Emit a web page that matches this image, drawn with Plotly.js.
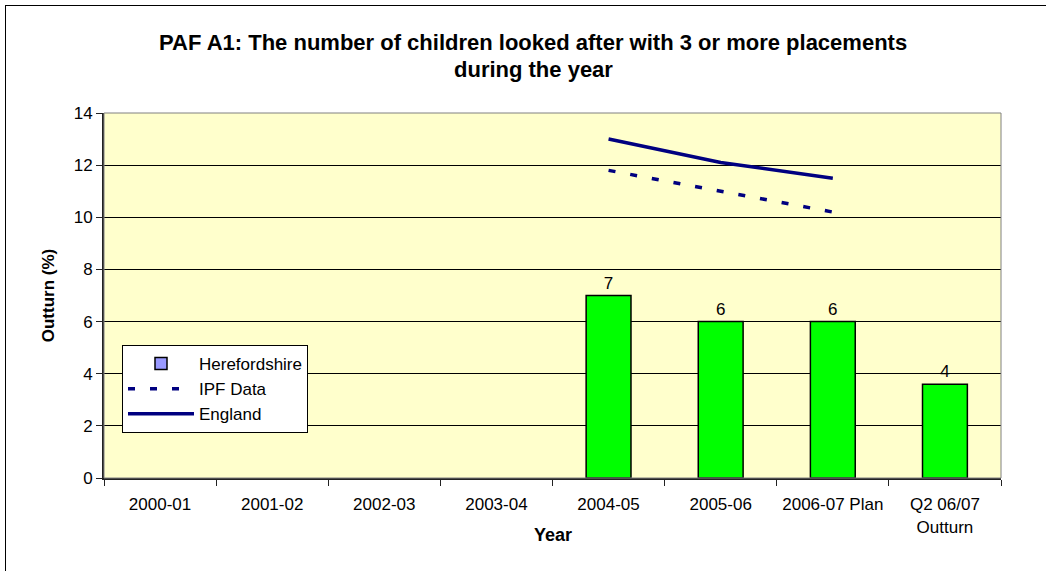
<!DOCTYPE html>
<html>
<head>
<meta charset="utf-8">
<script src="https://cdn.plot.ly/plotly-3.0.1.min.js"></script>
<style>
  html, body { margin: 0; padding: 0; background: #ffffff; }
  #chart { position: absolute; left: 0; top: 0; width: 1046px; height: 571px; }
  #frame { position: absolute; left: 5px; top: 5px; width: 1100px; height: 700px;
           border-left: 1px solid #000; border-top: 1px solid #000; pointer-events: none; }
</style>
</head>
<body>
<div id="chart"></div>
<div id="frame"></div>
<script>
// Reporting years along the x axis
const years = ['2000-01', '2001-02', '2002-03', '2003-04', '2004-05', '2005-06',
               '2006-07 Plan', 'Q2 06/07<br>Outturn'];

// Percentage of looked-after children with 3+ placements
const herefordshire = [null, null, null, null, 7, 6, 6, 3.6];
const ipfData       = [null, null, null, null, 11.8, 11.0, 10.2, null];
const england       = [null, null, null, null, 13.0, 12.1, 11.5, null];

// Series colour, with the reported points highlighted in green
const herefordshireColors = ['#9999FF', '#9999FF', '#9999FF', '#9999FF',
                             '#00FF00', '#00FF00', '#00FF00', '#00FF00'];

const titleLines = ['PAF A1: The number of children looked after with 3 or more placements',
                    'during the year'];
const xTitle = 'Year';
const yTitle = 'Outturn (%)';
const yTicks = [0, 2, 4, 6, 8, 10, 12, 14];

const FONT = 'Liberation Sans, Arial, sans-serif';
const navy = '#000080';

const traces = [
  {
    type: 'bar',
    name: 'Herefordshire',
    x: years,
    y: herefordshire,
    marker: { color: herefordshireColors, line: { color: '#000000', width: 1.5 } },
    texttemplate: '%{y:.0f}',
    textposition: 'outside',
    textfont: { family: FONT, size: 17, color: '#000000' },
    cliponaxis: false,
    hoverinfo: 'x+y'
  },
  {
    type: 'scatter',
    mode: 'lines',
    name: 'IPF Data',
    x: years,
    y: ipfData,
    line: { color: navy, width: 3.5, dash: '7px,15px' }
  },
  {
    type: 'scatter',
    mode: 'lines',
    name: 'England',
    x: years,
    y: england,
    line: { color: navy, width: 3.5 }
  }
];

const plotL = 104, plotR = 1001, plotT = 113, plotB = 478;
const W = 1046, H = 571;
const px = v => (v - plotL) / (plotR - plotL);
const py = v => (plotB - v) / (plotB - plotT);

const layout = {
  width: W,
  height: H,
  margin: { l: plotL, r: W - plotR, t: plotT, b: H - plotB, pad: 0 },
  paper_bgcolor: 'rgba(0,0,0,0)',
  plot_bgcolor: '#FFFFCC',
  font: { family: FONT, size: 17, color: '#000000' },
  showlegend: true,
  barmode: 'group',
  bargap: 0.6,
  xaxis: {
    type: 'category',
    categoryorder: 'array',
    categoryarray: years,
    range: [-0.5, years.length - 0.5],
    showgrid: false,
    showline: true,
    linecolor: '#222222',
    linewidth: 2,
    ticks: 'outside',
    tickson: 'boundaries',
    ticklen: 6,
    tickcolor: '#222222',
    ticklabelstandoff: 10,
    tickfont: { family: FONT, size: 17, color: '#000000' },
    fixedrange: true
  },
  yaxis: {
    range: [0, 14],
    tickvals: yTicks,
    ticktext: yTicks.map(String),
    showgrid: true,
    gridcolor: '#000000',
    gridwidth: 1,
    zeroline: false,
    showline: true,
    linecolor: '#222222',
    linewidth: 2,
    ticks: 'outside',
    ticklen: 6,
    tickcolor: '#222222',
    tickfont: { family: FONT, size: 17, color: '#000000' },
    title: { text: yTitle, font: { family: FONT, size: 17, weight: 'bold', color: '#000000' }, standoff: 15 },
    fixedrange: true
  },
  legend: {
    x: px(122),
    y: py(345),
    xanchor: 'left',
    yanchor: 'top',
    bgcolor: '#FFFFFF',
    bordercolor: '#000000',
    borderwidth: 1,
    font: { family: FONT, size: 17, color: '#000000' },
    traceorder: 'normal',
    itemwidth: 66
  },
  shapes: [
    {
      type: 'rect', xref: 'paper', yref: 'paper', x0: 0, x1: 1, y0: 0, y1: 1,
      line: { color: '#808080', width: 1 }, fillcolor: 'rgba(0,0,0,0)', layer: 'above'
    }
  ],
  annotations: titleLines.map((t, i) => ({
    text: t,
    xref: 'paper', yref: 'paper',
    x: px(533), y: py(i === 0 ? 43 : 70),
    xanchor: 'center', yanchor: 'middle',
    showarrow: false,
    font: { family: FONT, size: 22, weight: 'bold', color: '#000000' }
  })).concat([{
    // x-axis title, sitting alongside the second line of the last tick label
    text: xTitle,
    xref: 'paper', yref: 'paper',
    x: 0.5, y: py(535),
    xanchor: 'center', yanchor: 'middle',
    showarrow: false,
    font: { family: FONT, size: 18, weight: 'bold', color: '#000000' }
  }])
};

Plotly.newPlot('chart', traces, layout, { displayModeBar: false, staticPlot: true });
</script>
</body>
</html>
